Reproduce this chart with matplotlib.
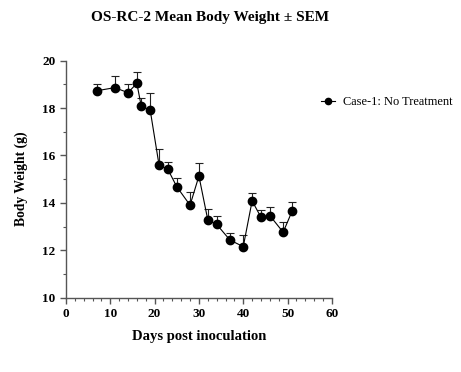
import matplotlib.pyplot as plt
import numpy as np
from matplotlib.ticker import MultipleLocator

plt.rcParams['font.family'] = ['Liberation Serif', 'DejaVu Serif']

# Mean body weight per day and upper SEM
days = [7, 11, 14, 16, 17, 19, 21, 23, 25, 28, 30, 32, 34, 37, 40, 42, 44, 46, 49, 51]
weight = [18.73, 18.86, 18.65, 19.04, 18.07, 17.92, 15.60, 15.41, 14.68, 13.90,
          15.13, 13.28, 13.09, 12.43, 12.15, 14.08, 13.39, 13.46, 12.76, 13.64]
upper = [19.00, 19.35, 19.00, 19.52, 18.42, 18.65, 16.26, 15.74, 15.05, 14.44,
         15.69, 13.73, 13.45, 12.73, 12.63, 14.43, 13.71, 13.81, 13.20, 14.05]
sem = np.array(upper) - np.array(weight)

fig = plt.figure(figsize=(4.61, 3.72), dpi=100)
ax = fig.add_axes([0.143, 0.2, 0.577, 0.637])

ax.errorbar(days, weight, yerr=[np.zeros(len(sem)), sem], fmt='none',
            ecolor='#222222', elinewidth=0.8, capsize=3, capthick=0.8)
ax.plot(days, weight, color='black', lw=0.8, marker='o', ms=6,
        label='Case-1: No Treatment')

ax.set_xlim(0, 60)
ax.set_ylim(10, 20)
ax.xaxis.set_major_locator(MultipleLocator(10))
ax.xaxis.set_minor_locator(MultipleLocator(2))
ax.yaxis.set_major_locator(MultipleLocator(2))
ax.yaxis.set_minor_locator(MultipleLocator(1))
for s in ['top', 'right']:
    ax.spines[s].set_visible(False)
for s in ['left', 'bottom']:
    ax.spines[s].set_linewidth(1.0)
    ax.spines[s].set_color('#555555')
ax.tick_params(which='major', direction='out', length=4, width=1,
               color='#555555', labelsize=9.5)
ax.tick_params(which='minor', direction='out', length=2.5, width=0.8,
               color='#555555')
for lab in ax.get_xticklabels() + ax.get_yticklabels():
    lab.set_fontweight('bold')

ax.set_xlabel('Days post inoculation', fontsize=10.5, fontweight='bold', labelpad=7)
ax.set_ylabel('Body Weight (g)', fontsize=9.8, fontweight='bold', labelpad=10)
fig.suptitle('OS-RC-2 Mean Body Weight ± SEM', x=0.455, y=0.97,
             fontsize=11, fontweight='bold')

ax.legend(loc='center left', bbox_to_anchor=(321 / 461, 1 - 102 / 372),
          bbox_transform=fig.transFigure, frameon=False, borderpad=0,
          borderaxespad=0, fontsize=8.9, handlelength=1.1, handletextpad=0.65,
          markerscale=0.75)

fig.savefig('out.png', dpi=100)
